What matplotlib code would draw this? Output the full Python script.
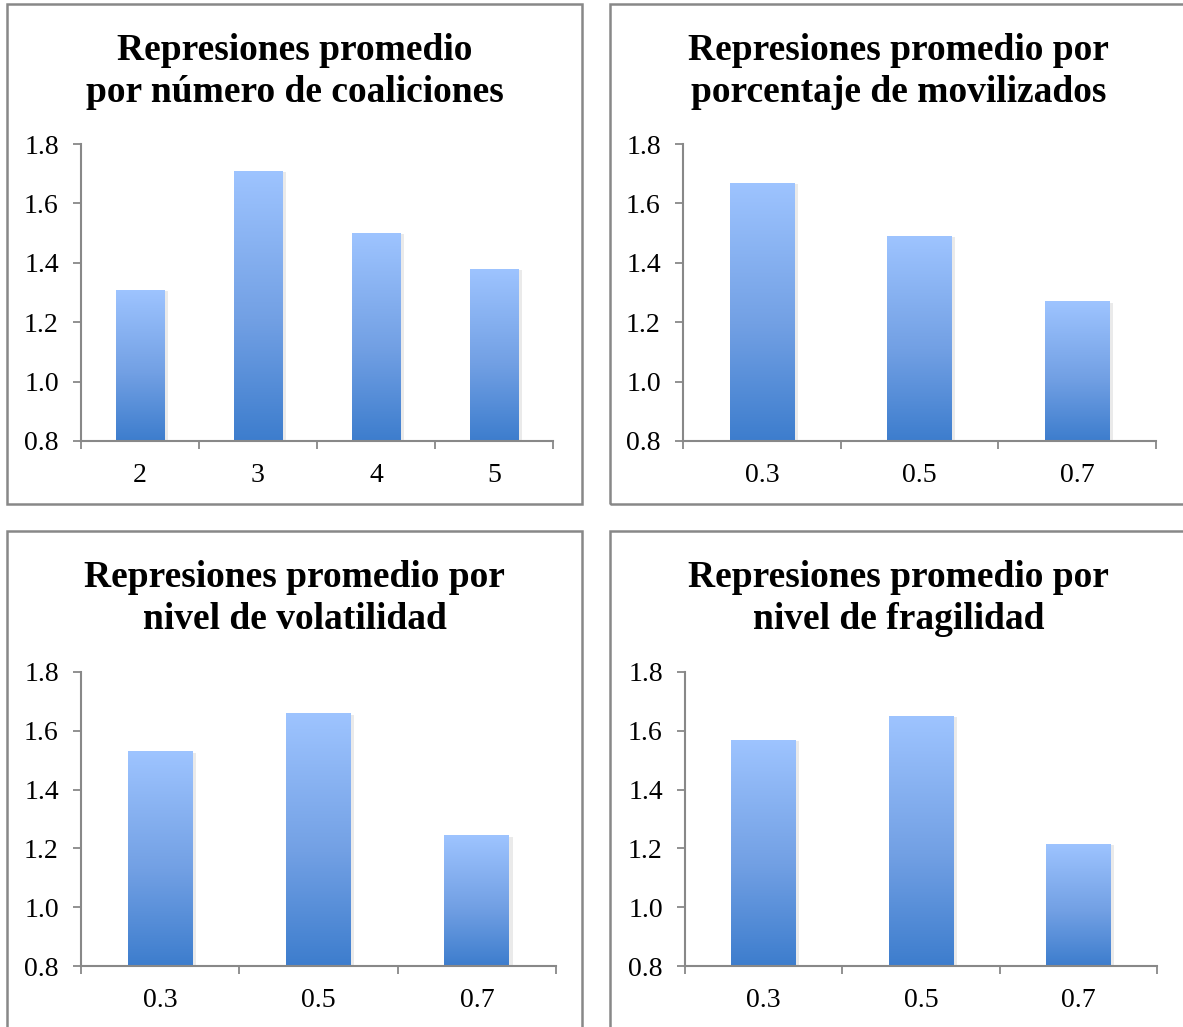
import numpy as np
import matplotlib.pyplot as plt
from matplotlib.colors import LinearSegmentedColormap
from matplotlib.patches import Rectangle
import matplotlib.patheffects as pe

plt.rcParams['font.family'] = ['Liberation Serif', 'DejaVu Serif']

# Datos de cada panel
titulos = [
    ('Represiones promedio', 'por número de coaliciones'),
    ('Represiones promedio por', 'porcentaje de movilizados'),
    ('Represiones promedio por', 'nivel de volatilidad'),
    ('Represiones promedio por', 'nivel de fragilidad'),
]
cat_coaliciones = ['2', '3', '4', '5']
rep_coaliciones = [1.31, 1.71, 1.50, 1.38]
cat_movilizados = ['0.3', '0.5', '0.7']
rep_movilizados = [1.67, 1.49, 1.27]
cat_volatilidad = ['0.3', '0.5', '0.7']
rep_volatilidad = [1.53, 1.66, 1.245]
cat_fragilidad = ['0.3', '0.5', '0.7']
rep_fragilidad = [1.57, 1.65, 1.215]

categorias = [cat_coaliciones, cat_movilizados, cat_volatilidad, cat_fragilidad]
valores = [rep_coaliciones, rep_movilizados, rep_volatilidad, rep_fragilidad]
y_ticks = [0.8, 1.0, 1.2, 1.4, 1.6, 1.8]

W, H = 1183, 1027
fig = plt.figure(figsize=(W / 100, H / 100), dpi=100)

# degradado azul de las barras (oscuro abajo, claro arriba)
cmap = LinearSegmentedColormap.from_list(
    'azul', [(0.0, '#3d7dcd'), (0.45, '#72a0e4'), (1.0, '#9ec4ff')])
grad = np.linspace(0, 1, 256).reshape(-1, 1)

gris = '#888888'

# marcos (px): izquierda, arriba, derecha, abajo
marcos = [(7, 4, 582, 504), (610, 4, 1187, 504),
          (7, 531, 582, 1031), (610, 531, 1187, 1031)]
# ejes (px): izquierda, arriba, derecha, abajo
ejes = [(81, 144, 553, 441), (683, 144, 1156, 441),
        (81, 672, 556, 966), (685, 672, 1157, 966)]


def px(x0, y0, x1, y1):
    return [x0 / W, 1 - y1 / H, (x1 - x0) / W, (y1 - y0) / H]


for i in range(4):
    mx0, my0, mx1, my1 = marcos[i]
    fig.patches.append(Rectangle((mx0 / W, 1 - my1 / H), (mx1 - mx0) / W,
                                 (my1 - my0) / H, transform=fig.transFigure,
                                 fill=False, edgecolor=gris, linewidth=1.8))
    cx = (mx0 + mx1) / 2 / W
    fig.text(cx, 1 - (my0 + 56) / H, titulos[i][0], ha='center',
             va='baseline', fontsize=27, fontweight='bold')
    fig.text(cx, 1 - (my0 + 98) / H, titulos[i][1], ha='center',
             va='baseline', fontsize=27, fontweight='bold')

    ax = fig.add_axes(px(*ejes[i]))
    cats = categorias[i]
    vals = valores[i]
    x = np.arange(len(cats))
    barras = ax.bar(x, np.array(vals) - 0.8, bottom=0.8, width=0.41,
                    facecolor='none', edgecolor='none', zorder=1)
    for b in barras:
        b.set_path_effects([pe.SimplePatchShadow(offset=(2.5, -1),
                                                 shadow_rgbFace='#777777',
                                                 alpha=0.15)])
        bx, by = b.get_x(), b.get_y()
        im = ax.imshow(grad, cmap=cmap, origin='lower', aspect='auto',
                       extent=(bx, bx + b.get_width(), by, by + b.get_height()),
                       zorder=2)
        im.set_clip_path(b)

    ax.set_xlim(-0.5, len(cats) - 0.5)
    ax.set_ylim(0.8, 1.8)
    ax.set_yticks(y_ticks)
    ax.set_yticklabels(['%.1f' % v for v in y_ticks])
    ax.set_xticks(np.arange(len(cats) + 1) - 0.5)
    ax.set_xticklabels([])
    ax.set_xticks(x, minor=True)
    ax.set_xticklabels(cats, minor=True)
    ax.tick_params(axis='x', which='major', length=6, width=1.3, color=gris,
                   direction='out')
    ax.tick_params(axis='x', which='minor', length=0, pad=16, labelsize=20)
    ax.tick_params(axis='y', length=6, width=1.3, color=gris, pad=10,
                   labelsize=20)
    for lado in ['top', 'right']:
        ax.spines[lado].set_visible(False)
    for lado in ['left', 'bottom']:
        ax.spines[lado].set_color(gris)
        ax.spines[lado].set_linewidth(1.5)

fig.savefig('out.png', dpi=100, facecolor='white')
